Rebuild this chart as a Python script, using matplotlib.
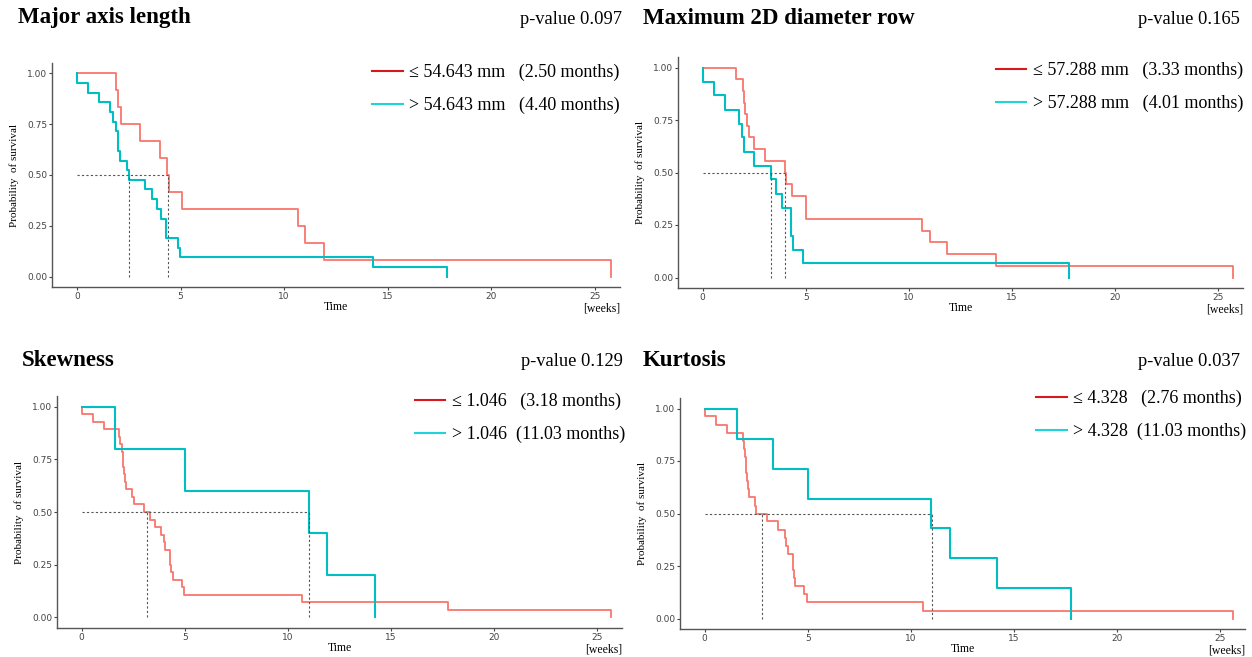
import matplotlib
matplotlib.use('Agg')
import matplotlib.pyplot as plt
from matplotlib.lines import Line2D

W, H = 1252, 657
serif = ['Liberation Serif', 'DejaVu Serif']

# ---- data (times in the x unit of the plot) ----
titles = ['Major axis length', 'Maximum 2D diameter row', 'Skewness', 'Kurtosis']
pvalues = ['p-value 0.097', 'p-value 0.165', 'p-value 0.129', 'p-value 0.037']
labels_low = ['\u2264 54.643 mm   (2.50 months)', '\u2264 57.288 mm   (3.33 months)',
              '\u2264 1.046   (3.18 months)', '\u2264 4.328   (2.76 months)']
labels_high = ['> 54.643 mm   (4.40 months)', '> 57.288 mm   (4.01 months)',
               '> 1.046  (11.03 months)', '> 4.328  (11.03 months)']

red1_t = [0, 1.90, 2.00, 2.15, 3.03, 4.00, 4.37, 4.42, 5.05, 10.66, 11.00, 11.94, 25.77]
red1_s = [1.0, 0.917, 0.833, 0.75, 0.667, 0.583, 0.5, 0.417, 0.333, 0.25, 0.167, 0.083, 0.0]
cyan1_t = [0, 0, 0.53, 1.05, 1.58, 1.74, 1.87, 1.98, 2.06, 2.42, 2.52, 3.31, 3.60, 3.87,
           4.05, 4.30, 4.89, 4.98, 14.27, 17.87]
cyan1_s = [1.0, 0.952, 0.905, 0.857, 0.81, 0.762, 0.714, 0.619, 0.571, 0.524, 0.476, 0.429,
           0.381, 0.333, 0.286, 0.19, 0.143, 0.095, 0.048, 0.0]

red2_t = [0, 1.60, 1.94, 2.02, 2.06, 2.15, 2.23, 2.47, 3.03, 3.97, 4.03, 4.35, 5.00, 10.65,
          11.00, 11.85, 14.20, 25.70]
red2_s = [1.0, 0.944, 0.889, 0.833, 0.778, 0.722, 0.667, 0.611, 0.556, 0.5, 0.444, 0.389,
          0.278, 0.222, 0.167, 0.111, 0.056, 0.0]
cyan2_t = [0, 0, 0.53, 1.10, 1.77, 1.89, 2.00, 2.50, 3.29, 3.55, 3.85, 4.30, 4.40, 4.85, 17.76]
cyan2_s = [1.0, 0.933, 0.867, 0.8, 0.733, 0.667, 0.6, 0.533, 0.467, 0.4, 0.333, 0.2, 0.133,
           0.067, 0.0]

red3_t = [0, 0, 0.55, 1.10, 1.79, 1.87, 1.94, 2.00, 2.06, 2.11, 2.16, 2.44, 2.52, 3.03, 3.29,
          3.55, 3.85, 3.97, 4.03, 4.29, 4.35, 4.42, 4.85, 4.98, 10.66, 17.76, 25.66]
red3_s = [1.0, 0.964, 0.929, 0.893, 0.857, 0.821, 0.786, 0.714, 0.679, 0.643, 0.607, 0.571,
          0.536, 0.5, 0.464, 0.429, 0.393, 0.357, 0.321, 0.25, 0.214, 0.179, 0.143, 0.107,
          0.071, 0.036, 0.0]
cyan3_t = [0, 1.60, 5.00, 11.03, 11.90, 14.22]
cyan3_s = [1.0, 0.8, 0.6, 0.4, 0.2, 0.0]

red4_t = [0, 0, 0.55, 1.06, 1.87, 1.92, 1.97, 2.01, 2.05, 2.10, 2.16, 2.42, 2.48, 3.00, 3.56,
          3.87, 3.94, 4.03, 4.26, 4.33, 4.39, 4.82, 4.98, 10.60, 25.60]
red4_s = [1.0, 0.962, 0.923, 0.885, 0.846, 0.808, 0.769, 0.692, 0.654, 0.615, 0.577, 0.538,
          0.5, 0.462, 0.423, 0.385, 0.346, 0.308, 0.231, 0.192, 0.154, 0.115, 0.077, 0.038, 0.0]
cyan4_t = [0, 1.56, 3.32, 5.00, 10.97, 11.89, 14.18, 17.76]
cyan4_s = [1.0, 0.857, 0.714, 0.571, 0.429, 0.286, 0.143, 0.0]

medians = [[2.50, 4.40], [3.33, 4.01], [3.18, 11.03], [2.76, 11.03]]

curves = [(red1_t, red1_s, cyan1_t, cyan1_s), (red2_t, red2_s, cyan2_t, cyan2_s),
          (red3_t, red3_s, cyan3_t, cyan3_s), (red4_t, red4_s, cyan4_t, cyan4_s)]

# axes boxes in pixels: left, right, top, bottom
boxes = [(52, 620, 63, 287), (678, 1243, 57, 288), (57, 622, 396, 628), (680, 1245, 398, 629)]
title_pos = [(18, 18), (643, 18), (22, 360), (643, 360)]
pval_pos = [(622, 20), (1240, 20), (623, 362), (1240, 362)]
legend_pos = [(620, 64), (1243, 62), (625, 393), (1246, 390)]

RED = '#F8766D'
CYAN = '#00BFC4'

fig = plt.figure(figsize=(W / 100, H / 100), dpi=100)

for i in range(4):
    l, r, t, b = boxes[i]
    ax = fig.add_axes([l / W, (H - b) / H, (r - l) / W, (b - t) / H])
    rt, rs, ct, cs = curves[i]
    ax.step(rt, rs, where='post', color=RED, lw=1.3)
    ax.step(ct, cs, where='post', color=CYAN, lw=1.5)

    m = medians[i]
    ax.plot([0, max(m)], [0.5, 0.5], ls=(0, (2, 2)), color='#555555', lw=0.8)
    for mv in m:
        ax.plot([mv, mv], [0, 0.5], ls=(0, (2, 2)), color='#555555', lw=0.8)

    ax.set_xlim(-1.2, 26.2)
    ax.set_ylim(-0.05, 1.05)
    ax.set_xticks([0, 5, 10, 15, 20, 25])
    ax.set_yticks([0, 0.25, 0.5, 0.75, 1.0])
    ax.set_yticklabels(['0.00', '0.25', '0.50', '0.75', '1.00'])
    for s in ['top', 'right']:
        ax.spines[s].set_visible(False)
    for s in ['left', 'bottom']:
        ax.spines[s].set_color('#555555')
        ax.spines[s].set_linewidth(1.0)
    ax.tick_params(labelsize=6.5, colors='#444444', length=2.5, width=0.8, pad=1)
    ax.set_ylabel('Probability  of survival', family=serif, fontsize=8, labelpad=6)
    ax.set_xlabel('Time', family=serif, fontsize=8.5, labelpad=0)
    ax.text(1.0, -0.068, '[weeks]', transform=ax.transAxes, ha='right', va='top',
            family=serif, fontsize=8.5)

    tx, ty = title_pos[i]
    fig.text(tx / W, 1 - ty / H, titles[i], family=serif, fontsize=16.5, weight='bold',
             ha='left', va='center')
    px, py = pval_pos[i]
    fig.text(px / W, 1 - py / H, pvalues[i], family=serif, fontsize=13.3,
             ha='right', va='center')

    handles = [Line2D([], [], color='#D7191C', lw=1.5), Line2D([], [], color='#1FD3DB', lw=1.5)]
    lx, ly = legend_pos[i]
    fig.legend(handles, [labels_low[i], labels_high[i]], loc='upper right',
               bbox_to_anchor=(lx / W, 1 - ly / H), frameon=False,
               prop={'family': serif, 'size': 13}, handlelength=1.7,
               handletextpad=0.35, labelspacing=0.85, borderaxespad=0, borderpad=0)

fig.savefig('out.png', dpi=100)
